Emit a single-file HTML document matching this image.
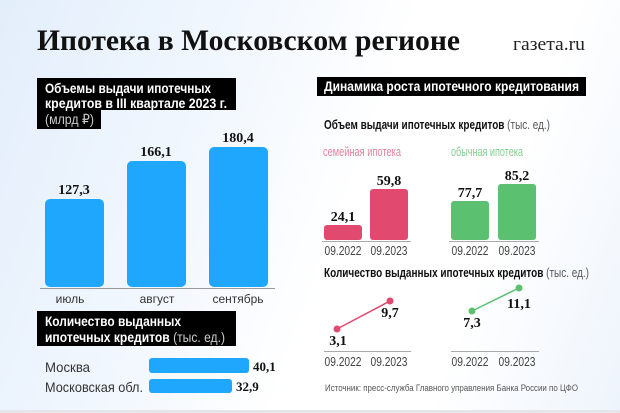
<!DOCTYPE html>
<html><head><meta charset="utf-8"><style>
html,body{margin:0;padding:0;width:620px;height:413px;overflow:hidden}
body{background:linear-gradient(110deg,#e3eefb 0%,#f3f8fe 35%,#ffffff 55%,#ffffff 75%,#eef4fc 100%)}
svg{display:block}
.s{font-family:"Liberation Sans",sans-serif}
.v{font-family:"Liberation Serif",serif;font-weight:bold;fill:#111}
</style></head><body>
<svg width="620" height="413" xmlns="http://www.w3.org/2000/svg">
<rect x="0" y="410" width="620" height="3" fill="#e4e6ea"/>
<text x="37" y="50" font-family="Liberation Serif,serif" font-weight="bold" font-size="30" fill="#111" textLength="423" lengthAdjust="spacingAndGlyphs">Ипотека в Московском регионе</text>
<text x="513" y="50" font-family="Liberation Serif,serif" font-size="19" fill="#222" textLength="72" lengthAdjust="spacingAndGlyphs">газета.ru</text>

<rect x="37" y="78" width="199" height="32" fill="#000"/>
<rect x="37" y="110" width="64" height="19" fill="#000"/>
<g class="s" font-size="14" font-weight="bold" fill="#fff">
<text x="45" y="93" textLength="166" lengthAdjust="spacingAndGlyphs">Объемы выдачи ипотечных</text>
<text x="45" y="108" textLength="182" lengthAdjust="spacingAndGlyphs">кредитов в III квартале 2023 г.</text>
</g>
<text x="45" y="124" class="s" font-size="14" fill="#ccc" textLength="49" lengthAdjust="spacingAndGlyphs">(млрд ₽)</text>

<g fill="#1ea7fd">
<rect x="45" y="199" width="59" height="88" rx="5"/>
<rect x="127" y="161" width="59" height="126" rx="5"/>
<rect x="209" y="147" width="59" height="140" rx="5"/>
</g>
<rect x="40" y="288" width="235" height="1" fill="#999"/>
<g class="v" font-size="14" text-anchor="middle">
<text x="74" y="194">127,3</text><text x="156" y="156">166,1</text><text x="238" y="142">180,4</text>
</g>
<g class="s" font-size="12" fill="#333" text-anchor="middle">
<text x="70" y="303">июль</text><text x="157" y="303">август</text><text x="238" y="303">сентябрь</text>
</g>

<rect x="37" y="311" width="199" height="35" fill="#000"/>
<text x="45" y="326" class="s" font-size="14" font-weight="bold" fill="#fff" textLength="136" lengthAdjust="spacingAndGlyphs">Количество выданных</text>
<text x="45" y="342" class="s" font-size="14" fill="#fff" textLength="180" lengthAdjust="spacingAndGlyphs"><tspan font-weight="bold">ипотечных кредитов</tspan><tspan fill="#ccc"> (тыс. ед.)</tspan></text>

<g class="s" font-size="14" fill="#333">
<text x="45" y="372" textLength="45" lengthAdjust="spacingAndGlyphs">Москва</text><text x="45" y="392" textLength="98" lengthAdjust="spacingAndGlyphs">Московская обл.</text>
</g>
<rect x="149" y="358" width="100" height="15" rx="3" fill="#1ea7fd"/>
<rect x="149" y="379" width="83" height="14" rx="3" fill="#1ea7fd"/>
<g class="v" font-size="13"><text x="253" y="371">40,1</text><text x="236" y="391">32,9</text></g>

<rect x="317" y="77" width="269" height="19" fill="#000"/>
<text x="324" y="91" class="s" font-size="14" font-weight="bold" fill="#fff" textLength="255" lengthAdjust="spacingAndGlyphs">Динамика роста ипотечного кредитования</text>
<text x="324" y="129" class="s" font-size="13" fill="#111" textLength="226" lengthAdjust="spacingAndGlyphs"><tspan font-weight="bold">Объем выдачи ипотечных кредитов</tspan><tspan fill="#555"> (тыс. ед.)</tspan></text>
<text x="323" y="156" class="s" font-size="13" fill="#e8809a" textLength="78" lengthAdjust="spacingAndGlyphs">семейная ипотека</text>
<text x="451" y="156" class="s" font-size="13" fill="#7fcf8f" textLength="72" lengthAdjust="spacingAndGlyphs">обычная ипотека</text>
<rect x="324" y="225" width="38" height="15" rx="3" fill="#e14a6e"/>
<rect x="370" y="189" width="38" height="51" rx="3" fill="#e14a6e"/>
<rect x="451" y="201" width="38" height="39" rx="3" fill="#5bc171"/>
<rect x="498" y="184" width="38" height="56" rx="3" fill="#5bc171"/>
<rect x="322" y="241" width="89" height="1" fill="#aaa"/>
<rect x="449" y="241" width="90" height="1" fill="#aaa"/>
<g class="v" font-size="14" text-anchor="middle">
<text x="343" y="221">24,1</text><text x="389" y="185">59,8</text>
<text x="470" y="197">77,7</text><text x="517" y="180">85,2</text>
</g>
<g class="s" font-size="13" fill="#444" text-anchor="middle">
<text x="343" y="255" textLength="37" lengthAdjust="spacingAndGlyphs">09.2022</text><text x="389" y="255" textLength="37" lengthAdjust="spacingAndGlyphs">09.2023</text>
<text x="470" y="255" textLength="37" lengthAdjust="spacingAndGlyphs">09.2022</text><text x="517" y="255" textLength="37" lengthAdjust="spacingAndGlyphs">09.2023</text>
<text x="343" y="366" textLength="37" lengthAdjust="spacingAndGlyphs">09.2022</text><text x="389" y="366" textLength="37" lengthAdjust="spacingAndGlyphs">09.2023</text>
<text x="470" y="366" textLength="37" lengthAdjust="spacingAndGlyphs">09.2022</text><text x="517" y="366" textLength="37" lengthAdjust="spacingAndGlyphs">09.2023</text>
</g>
<text x="324" y="277" class="s" font-size="13" fill="#111" textLength="265" lengthAdjust="spacingAndGlyphs"><tspan font-weight="bold">Количество выданных ипотечных кредитов</tspan><tspan fill="#555"> (тыс. ед.)</tspan></text>
<line x1="337" y1="329" x2="390" y2="301" stroke="#e14a6e" stroke-width="1.5"/>
<circle cx="337" cy="329" r="3.5" fill="#e14a6e"/><circle cx="390" cy="301" r="3.5" fill="#e14a6e"/>
<line x1="472" y1="311" x2="519" y2="288" stroke="#5bc171" stroke-width="1.5"/>
<circle cx="472" cy="311" r="3.5" fill="#5bc171"/><circle cx="519" cy="288" r="3.5" fill="#5bc171"/>
<g class="v" font-size="14" text-anchor="middle">
<text x="338" y="345">3,1</text><text x="390" y="317">9,7</text>
<text x="472" y="327">7,3</text><text x="519" y="308">11,1</text>
</g>
<rect x="324" y="351" width="87" height="1" fill="#aaa"/>
<rect x="451" y="351" width="88" height="1" fill="#aaa"/>
<text x="325" y="391" class="s" font-size="9" fill="#555" textLength="253" lengthAdjust="spacingAndGlyphs">Источник: пресс-служба Главного управления Банка России по ЦФО</text>
</svg>
</body></html>
